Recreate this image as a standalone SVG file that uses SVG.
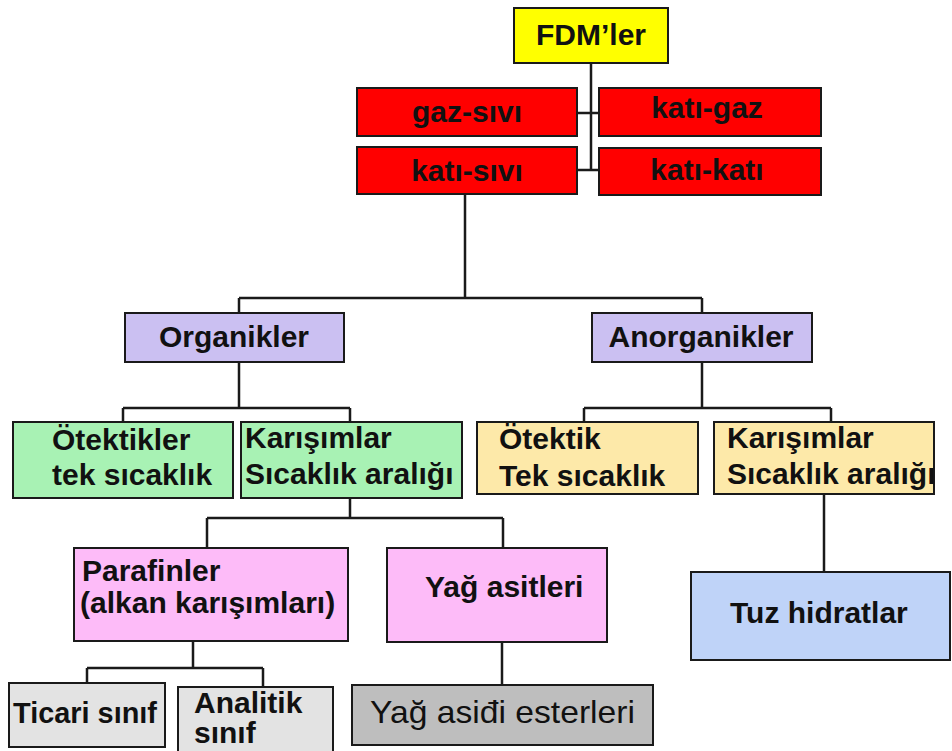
<svg xmlns="http://www.w3.org/2000/svg" width="952" height="751" viewBox="0 0 952 751">
<style>
.b{stroke:#1a1a1a;stroke-width:2}
.t{font-family:"Liberation Sans",Arial,sans-serif;font-size:30px;font-weight:bold;fill:#111}
.r{font-family:"Liberation Sans",Arial,sans-serif;font-size:32px;fill:#111}
.c{text-anchor:middle}
#connectors path{fill:none;stroke:#1a1a1a;stroke-width:2.5}
</style>
<rect width="952" height="751" fill="#fff"/>
<g id="connectors">
<path d="M591,63 V170 M577,113 H599 M577,170 H599"/>
<path d="M465,194 V298 M239,298 H702 M239,298 V313 M702,298 V313"/>
<path d="M239,362 V408 M123,408 H350 M123,408 V422 M350,408 V422"/>
<path d="M702,362 V408 M584,408 H831 M584,408 V422 M831,408 V422"/>
<path d="M350,498 V518 M207,518 H503 M207,518 V548 M503,518 V548"/>
<path d="M193,641 V668 M87,668 H263 M87,668 V683 M263,668 V687"/>
<path d="M502,642 V685"/>
<path d="M824,494 V572"/>
</g>
<g id="fdm"><rect class="b" x="514" y="8" width="154" height="55" fill="#ffff00"/><text class="t c" x="591" y="45">FDM’ler</text></g>
<g id="gaz-sivi"><rect class="b" x="357" y="88" width="220" height="48" fill="#ff0000"/><text class="t c" x="467" y="122">gaz-sıvı</text></g>
<g id="kati-gaz"><rect class="b" x="599" y="88" width="222" height="48" fill="#ff0000"/><text class="t c" x="707" y="118">katı-gaz</text></g>
<g id="kati-sivi"><rect class="b" x="357" y="147" width="220" height="47" fill="#ff0000"/><text class="t c" x="467" y="181">katı-sıvı</text></g>
<g id="kati-kati"><rect class="b" x="599" y="148" width="222" height="47" fill="#ff0000"/><text class="t c" x="707" y="180">katı-katı</text></g>
<g id="organikler"><rect class="b" x="125" y="313" width="219" height="49" fill="#cbc0f2"/><text class="t c" x="234" y="347">Organikler</text></g>
<g id="anorganikler"><rect class="b" x="592" y="313" width="220" height="49" fill="#cbc0f2"/><text class="t c" x="701" y="347">Anorganikler</text></g>
<g id="otektikler"><rect class="b" x="13" y="422" width="220" height="76" fill="#a8f2b4"/><text class="t" x="52" y="450">Ötektikler</text><text class="t" x="52" y="485">tek sıcaklık</text></g>
<g id="karisimlar-org"><rect class="b" x="241" y="422" width="221" height="76" fill="#a8f2b4"/><text class="t" x="245" y="448">Karışımlar</text><text class="t" x="245" y="484">Sıcaklık aralığı</text></g>
<g id="otektik-anorg"><rect class="b" x="477" y="422" width="221" height="72" fill="#fde9a9"/><text class="t" x="499" y="449">Ötektik</text><text class="t" x="499" y="486">Tek sıcaklık</text></g>
<g id="karisimlar-anorg"><rect class="b" x="714" y="422" width="220" height="72" fill="#fde9a9"/><text class="t" x="727" y="448">Karışımlar</text><text class="t" x="727" y="484">Sıcaklık aralığı</text></g>
<g id="parafinler"><rect class="b" x="74" y="548" width="274" height="93" fill="#fdbbf8"/><text class="t" x="82" y="581">Parafinler</text><text class="t" x="80" y="613">(alkan karışımları)</text></g>
<g id="yag-asitleri"><rect class="b" x="387" y="548" width="220" height="94" fill="#fdbbf8"/><text class="t" x="425" y="597">Yağ asitleri</text></g>
<g id="tuz-hidratlar"><rect class="b" x="691" y="572" width="259" height="88" fill="#bfd3f8"/><text class="t" x="730" y="623">Tuz hidratlar</text></g>
<g id="ticari"><rect class="b" x="9" y="683" width="156" height="64" fill="#e3e3e3"/><text class="t" x="13" y="723" textLength="144" lengthAdjust="spacingAndGlyphs">Ticari sınıf</text></g>
<g id="analitik"><rect class="b" x="178" y="687" width="155" height="66" fill="#e3e3e3"/><text class="t" x="194" y="713">Analitik</text><text class="t" x="194" y="743">sınıf</text></g>
<g id="esterleri"><rect class="b" x="352" y="685" width="301" height="60" fill="#bebebe"/><text class="r" x="370" y="723" textLength="265" lengthAdjust="spacingAndGlyphs">Yağ asiđi esterleri</text></g>
</svg>
